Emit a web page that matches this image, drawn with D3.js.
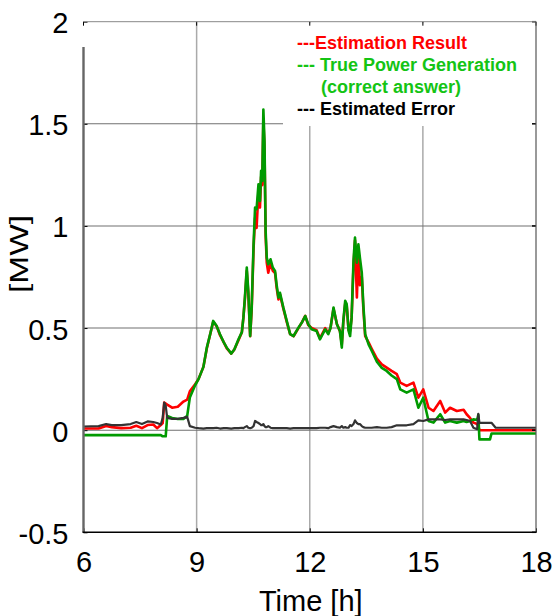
<!DOCTYPE html>
<html>
<head>
<meta charset="utf-8">
<script src="https://cdn.jsdelivr.net/npm/d3@7"></script>
<style>
  html, body { margin: 0; padding: 0; background: #fff; }
  svg { display: block; font-family: "Liberation Sans", Arial, sans-serif; }
</style>
</head>
<body>
<svg id="chart" width="554" height="616"></svg>
<script>
// ---- data ----
const time = [6.0, 6.4, 6.6, 6.75, 7.0, 7.25, 7.4, 7.55, 7.7, 7.85, 7.95, 8.05, 8.1, 8.14, 8.18,
  8.22, 8.35, 8.5, 8.65, 8.75, 8.82, 8.96, 9.05, 9.18, 9.27, 9.36, 9.44, 9.53, 9.62, 9.72,
  9.8, 9.92, 10.0, 10.11, 10.2, 10.24, 10.28, 10.33, 10.37, 10.42, 10.46, 10.51, 10.55, 10.59,
  10.64, 10.68, 10.71, 10.74, 10.77, 10.8, 10.83, 10.86, 10.9, 10.96, 11.02, 11.08, 11.12,
  11.17, 11.21, 11.3, 11.39, 11.48, 11.57, 11.7, 11.8, 11.88, 11.96, 12.05, 12.18, 12.27,
  12.41, 12.49, 12.55, 12.63, 12.72, 12.8, 12.85, 12.89, 12.94, 12.98, 13.03, 13.07, 13.11,
  13.16, 13.2, 13.25, 13.29, 13.33, 13.38, 13.42, 13.47, 13.56, 13.64, 13.78, 13.91, 14.04,
  14.17, 14.31, 14.4, 14.57, 14.75, 14.88, 15.01, 15.15, 15.28, 15.46, 15.59, 15.72, 15.9,
  16.08, 16.16, 16.25, 16.34, 16.44, 16.47, 16.5, 16.78, 16.82, 16.93, 18.0];

const estimation = [0.008, 0.008, 0.02, 0.015, 0.01, 0.012, 0.022, 0.01, 0.025, 0.028, 0.01, 0.025, 0.035, 0.135, 0.13,
  0.125, 0.11, 0.115, 0.14, 0.15, 0.19, 0.225, 0.25, 0.31, 0.40, 0.47, 0.53, 0.51, 0.465, 0.43,
  0.40, 0.375, 0.395, 0.44, 0.48, 0.55, 0.64, 0.78, 0.67, 0.46, 0.59, 0.89, 1.04, 0.99,
  1.17, 1.09, 1.24, 1.20, 1.52, 1.38, 0.95, 0.82, 0.771, 0.82, 0.78, 0.77, 0.70,
  0.64, 0.665, 0.595, 0.53, 0.47, 0.46, 0.50, 0.53, 0.56, 0.515, 0.50, 0.49, 0.45,
  0.50, 0.475, 0.50, 0.595, 0.52, 0.485, 0.42, 0.53, 0.62, 0.61, 0.49, 0.486, 0.55,
  0.80, 0.93, 0.65, 0.88, 0.71, 0.75, 0.60, 0.46, 0.43, 0.40, 0.35, 0.322, 0.306,
  0.29, 0.274, 0.233, 0.217, 0.233, 0.159, 0.20, 0.11, 0.094, 0.143, 0.086, 0.11, 0.094,
  0.10, 0.078, 0.06, 0.037, 0.03, 0.02, 0.0, 0.0, 0.0, 0.0, 0.0];

const truePower = [-0.024, -0.024, -0.024, -0.024, -0.024, -0.024, -0.024, -0.024, -0.024, -0.024, -0.024, -0.024, -0.03, -0.03, -0.03,
  0.07, 0.06, 0.055, 0.055, 0.07, 0.16, 0.22, 0.25, 0.31, 0.404, 0.47, 0.535, 0.51, 0.47, 0.43,
  0.404, 0.375, 0.395, 0.445, 0.48, 0.551, 0.649, 0.796, 0.682, 0.461, 0.60, 0.91, 1.09, 1.082,
  1.204, 1.122, 1.27, 1.22, 1.57, 1.416, 0.975, 0.845, 0.812, 0.837, 0.796, 0.78, 0.714,
  0.649, 0.673, 0.60, 0.535, 0.47, 0.461, 0.502, 0.53, 0.559, 0.519, 0.494, 0.486, 0.445,
  0.494, 0.47, 0.50, 0.60, 0.519, 0.486, 0.404, 0.535, 0.633, 0.617, 0.486, 0.461, 0.551,
  0.83, 0.943, 0.82, 0.91, 0.845, 0.771, 0.617, 0.47, 0.42, 0.39, 0.335, 0.305, 0.29,
  0.268, 0.25, 0.20, 0.184, 0.20, 0.11, 0.159, 0.045, 0.037, 0.078, 0.037, 0.045, 0.037,
  0.045, 0.04, 0.045, 0.053, 0.05, 0.075, -0.045, -0.045, -0.016, -0.016, -0.016];

const estimatedError = [0.018, 0.02, 0.03, 0.025, 0.025, 0.03, 0.04, 0.03, 0.043, 0.04, 0.035, 0.028, 0.06, 0.135, 0.12,
  0.06, 0.055, 0.055, 0.06, 0.065, 0.02, 0.012, 0.01, 0.008, 0.01, 0.01, 0.01, 0.012, 0.008, 0.01,
  0.01, 0.008, 0.01, 0.01, 0.012, 0.01, 0.015, 0.02, 0.012, 0.01, 0.012, 0.02, 0.045, 0.04,
  0.035, 0.03, 0.025, 0.025, 0.03, 0.02, 0.015, 0.015, 0.02, 0.012, 0.01, 0.01, 0.01,
  0.01, 0.01, 0.01, 0.01, 0.008, 0.01, 0.01, 0.01, 0.01, 0.01, 0.01, 0.01, 0.012,
  0.012, 0.01, 0.015, 0.02, 0.015, 0.012, 0.02, 0.012, 0.015, 0.012, 0.012, 0.025, 0.02,
  0.03, 0.048, 0.035, 0.03, 0.03, 0.02, 0.015, 0.012, 0.012, 0.012, 0.015, 0.012, 0.012,
  0.015, 0.024, 0.024, 0.024, 0.03, 0.048, 0.045, 0.053, 0.053, 0.053, 0.05, 0.053, 0.053,
  0.053, 0.05, 0.045, 0.012, 0.005, 0.08, 0.036, 0.036, 0.036, 0.012, 0.012];

const xTicks = [6, 9, 12, 15, 18];
const xTickLabels = ["6", "9", "12", "15", "18"];
const yTicks = [-0.5, 0, 0.5, 1, 1.5, 2];
const yTickLabels = ["-0.5", "0", "0.5", "1", "1.5", "2"];
const xGrid = [9, 12, 15];
const yGrid = [0, 0.5, 1, 1.5];

const seriesNames = ["---Estimation Result", "--- True Power Generation", "(correct answer)", "--- Estimated Error"];
const xLabel = "Time [h]";
const yLabel = "[MW]";

// ---- drawing ----
const svg = d3.select("#chart");
const L = 83.5, R = 536, T = 21.7, B = 532.3;
const x = d3.scaleLinear().domain([6, 18]).range([L, R]);
const y = d3.scaleLinear().domain([-0.5, 2]).range([B, T]);

// grid
svg.append("g").selectAll("line").data(xGrid).join("line")
  .attr("x1", d => x(d)).attr("x2", d => x(d)).attr("y1", T).attr("y2", B)
  .attr("stroke", "#aaaaaa").attr("stroke-width", 1.5);
svg.append("g").selectAll("line").data(yGrid).join("line")
  .attr("x1", L).attr("x2", R).attr("y1", d => y(d)).attr("y2", d => y(d))
  .attr("stroke", "#707070").attr("stroke-width", 1.1);

// legend background (covers grid)
svg.append("rect").attr("x", 283).attr("y", T + 1.5).attr("width", R - 283 - 1).attr("height", 126 - T - 1.5)
  .attr("fill", "#fff");

// lines
const idx = d3.range(time.length);
const mk = arr => d3.line().x(i => x(time[i])).y(i => y(arr[i]));
svg.append("path").datum(idx).attr("d", mk(estimation))
  .attr("fill", "none").attr("stroke", "#ff0000").attr("stroke-width", 2.6).attr("stroke-linejoin", "round");
svg.append("path").datum(idx).attr("d", mk(truePower))
  .attr("fill", "none").attr("stroke", "#009a00").attr("stroke-width", 2.6).attr("stroke-linejoin", "round");
svg.append("path").datum(idx).attr("d", mk(estimatedError))
  .attr("fill", "none").attr("stroke", "#333333").attr("stroke-width", 2.2).attr("stroke-linejoin", "round");

// axes
const fs = 29;
const ax = svg.append("g").attr("transform", `translate(0,${B})`)
  .call(d3.axisBottom(x).tickValues(xTicks).tickFormat((d, i) => xTickLabels[i]).tickSize(-4).tickPadding(19));
const ay = svg.append("g").attr("transform", `translate(${L},0)`)
  .call(d3.axisLeft(y).tickValues(yTicks).tickFormat((d, i) => yTickLabels[i]).tickSize(-4).tickPadding(15));
[ax, ay].forEach(g => {
  g.select(".domain").remove();
  g.selectAll(".tick line").attr("stroke", "#000").attr("stroke-width", 1);
  g.selectAll("text").attr("font-size", fs).attr("fill", "#000")
    .attr("font-family", "'Liberation Sans', Arial, sans-serif");
});
ay.selectAll("text").attr("dy", "0.38em");
// right-side ticks
svg.append("g").selectAll("line").data(yTicks).join("line")
  .attr("x1", R - 4).attr("x2", R).attr("y1", d => y(d)).attr("y2", d => y(d))
  .attr("stroke", "#000").attr("stroke-width", 1.5);
svg.append("g").selectAll("line").data(xTicks).join("line")
  .attr("x1", d => x(d)).attr("x2", d => x(d)).attr("y1", T).attr("y2", T + 4)
  .attr("stroke", "#000").attr("stroke-width", 1);

// frame
svg.append("line").attr("x1", L).attr("x2", R).attr("y1", T).attr("y2", T).attr("stroke", "#888").attr("stroke-width", 1);
svg.append("line").attr("x1", R).attr("x2", R).attr("y1", T).attr("y2", B).attr("stroke", "#555").attr("stroke-width", 1.2);
svg.append("line").attr("x1", L).attr("x2", L).attr("y1", 47).attr("y2", B).attr("stroke", "#666").attr("stroke-width", 2.4);
svg.append("line").attr("x1", L - 1).attr("x2", R + 0.5).attr("y1", B).attr("y2", B).attr("stroke", "#000").attr("stroke-width", 1.6);

// axis titles
svg.append("text").attr("x", (L + R) / 2 + 1).attr("y", 611).attr("text-anchor", "middle")
  .attr("font-size", 29).attr("fill", "#000").text(xLabel);
svg.append("text").attr("transform", "translate(28,254) rotate(-90)").attr("text-anchor", "middle")
  .attr("font-size", 25).attr("textLength", 78).attr("lengthAdjust", "spacingAndGlyphs")
  .attr("fill", "#000").text(yLabel);

// legend
const legend = [
  { t: seriesNames[0], x: 297, y: 49, c: "#ff0000" },
  { t: seriesNames[1], x: 297, y: 71, c: "#14c414" },
  { t: seriesNames[2], x: 321, y: 93, c: "#14c414" },
  { t: seriesNames[3], x: 297, y: 115, c: "#000000" }
];
svg.append("g").selectAll("text").data(legend).join("text")
  .attr("x", d => d.x).attr("y", d => d.y).attr("fill", d => d.c)
  .attr("font-size", 18).attr("font-weight", "bold").attr("xml:space", "preserve")
  .style("white-space", "pre").text(d => d.t);
</script>
</body>
</html>
